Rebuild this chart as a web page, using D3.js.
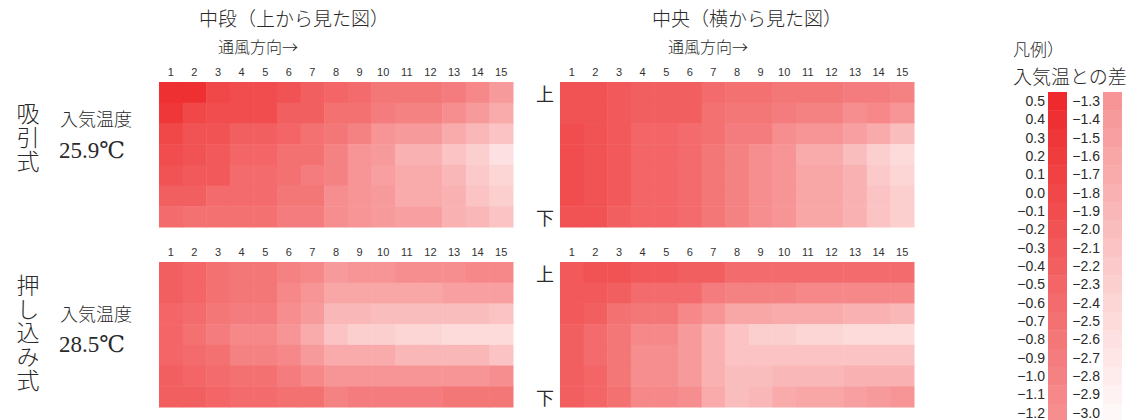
<!DOCTYPE html>
<html lang="ja">
<head>
<meta charset="utf-8">
<script src="https://cdn.jsdelivr.net/npm/d3@7"></script>
<style>
  html, body { margin: 0; padding: 0; background: #fff; }
  svg { display: block; }
  text { fill: #2a2a2a; }
  .temp { font-family: "Liberation Serif", "DejaVu Serif", "Times New Roman", serif; }
  .vert { writing-mode: vertical-rl; text-orientation: upright; }
</style>
</head>
<body>
<svg id="chart" width="1131" height="420"></svg>
<script>
// Column positions along the airflow direction
const columns = [1, 2, 3, 4, 5, 6, 7, 8, 9, 10, 11, 12, 13, 14, 15];

// Temperature difference from inlet air (°C), 7 rows × 15 columns, top row first
const suctionMiddle = [
  [ 0.4,  0.4,  0.0, -0.1, -0.1, -0.2, -0.4, -0.5, -0.6, -0.8, -0.8, -0.8, -0.9, -1.1, -1.4],
  [ 0.3,  0.0, -0.1, -0.1, -0.1, -0.4, -0.4, -0.7, -0.7, -0.9, -1.0, -1.0, -1.2, -1.4, -1.7],
  [ 0.0, -0.2, -0.2, -0.4, -0.4, -0.5, -0.7, -0.8, -1.0, -1.3, -1.4, -1.4, -1.7, -1.9, -2.1],
  [-0.1, -0.2, -0.3, -0.5, -0.5, -0.7, -0.7, -1.0, -1.3, -1.4, -1.8, -1.8, -2.1, -2.3, -2.6],
  [-0.2, -0.3, -0.3, -0.6, -0.6, -0.7, -0.9, -1.0, -1.3, -1.5, -1.7, -1.7, -1.9, -2.2, -2.4],
  [-0.4, -0.4, -0.6, -0.6, -0.6, -0.8, -0.8, -1.2, -1.3, -1.4, -1.7, -1.7, -1.8, -2.1, -2.3],
  [-0.6, -0.7, -0.7, -0.7, -0.7, -0.9, -0.9, -1.2, -1.3, -1.4, -1.5, -1.5, -1.8, -1.9, -2.1]
];
const suctionCenter = [
  [-0.2, -0.2, -0.3, -0.4, -0.4, -0.4, -0.6, -0.7, -0.7, -0.8, -0.8, -0.8, -0.9, -0.9, -1.0],
  [-0.2, -0.2, -0.3, -0.4, -0.4, -0.4, -0.7, -0.8, -0.8, -0.9, -1.0, -1.0, -1.2, -1.1, -1.3],
  [-0.1, -0.2, -0.3, -0.5, -0.5, -0.6, -0.7, -0.9, -0.9, -1.2, -1.3, -1.3, -1.5, -1.7, -2.0],
  [-0.1, -0.2, -0.3, -0.5, -0.5, -0.6, -0.8, -1.0, -1.2, -1.3, -1.7, -1.7, -2.0, -2.3, -2.5],
  [-0.1, -0.2, -0.3, -0.5, -0.5, -0.6, -0.8, -1.0, -1.2, -1.3, -1.6, -1.6, -1.8, -2.2, -2.4],
  [-0.1, -0.2, -0.3, -0.5, -0.5, -0.6, -0.8, -1.0, -1.2, -1.3, -1.6, -1.6, -1.8, -2.1, -2.3],
  [-0.2, -0.2, -0.4, -0.5, -0.5, -0.6, -0.8, -1.0, -1.2, -1.3, -1.6, -1.6, -1.8, -2.1, -2.3]
];
const pushMiddle = [
  [-0.4, -0.5, -0.7, -0.8, -0.8, -1.0, -1.1, -1.4, -1.3, -1.3, -1.2, -1.2, -1.2, -1.1, -1.1],
  [-0.4, -0.5, -0.7, -0.8, -0.8, -1.1, -1.3, -1.6, -1.6, -1.6, -1.6, -1.6, -1.5, -1.5, -1.5],
  [-0.5, -0.6, -0.8, -0.9, -0.9, -1.2, -1.4, -1.9, -1.9, -2.0, -2.0, -2.0, -2.0, -2.0, -2.1],
  [-0.5, -0.7, -0.9, -1.1, -1.1, -1.3, -1.7, -2.1, -2.3, -2.3, -2.4, -2.4, -2.5, -2.5, -2.5],
  [-0.5, -0.6, -0.7, -1.0, -1.0, -1.1, -1.4, -1.7, -1.7, -1.7, -1.9, -1.9, -1.9, -1.9, -2.1],
  [-0.4, -0.5, -0.6, -0.7, -0.7, -0.9, -1.1, -1.3, -1.3, -1.3, -1.3, -1.3, -1.3, -1.3, -1.2],
  [-0.4, -0.4, -0.5, -0.6, -0.6, -0.7, -0.7, -1.0, -0.9, -0.9, -0.9, -0.9, -0.8, -0.8, -0.8]
];
const pushCenter = [
  [-0.3, -0.2, -0.2, -0.3, -0.3, -0.4, -0.4, -0.6, -0.6, -0.6, -0.6, -0.6, -0.6, -0.6, -0.6],
  [-0.3, -0.3, -0.4, -0.6, -0.6, -0.6, -0.9, -1.0, -1.0, -1.0, -1.1, -1.1, -1.1, -1.1, -1.1],
  [-0.3, -0.4, -0.7, -0.8, -0.8, -1.1, -1.3, -1.6, -1.6, -1.7, -1.7, -1.7, -1.8, -1.8, -1.9],
  [-0.4, -0.6, -0.8, -1.1, -1.1, -1.4, -1.8, -2.1, -2.3, -2.3, -2.4, -2.4, -2.5, -2.5, -2.5],
  [-0.4, -0.6, -0.8, -1.2, -1.2, -1.4, -1.8, -2.1, -2.1, -2.1, -2.1, -2.1, -2.1, -2.1, -2.1],
  [-0.4, -0.5, -0.8, -1.2, -1.2, -1.4, -1.8, -2.0, -2.0, -1.9, -1.9, -1.9, -1.8, -1.8, -1.8],
  [-0.4, -0.5, -0.7, -1.1, -1.1, -1.2, -1.7, -2.0, -1.9, -1.7, -1.6, -1.6, -1.5, -1.4, -1.3]
];

// Legend steps (°C), split into two columns
const legendLeft  = [0.5, 0.4, 0.3, 0.2, 0.1, 0.0, -0.1, -0.2, -0.3, -0.4, -0.5, -0.6, -0.7, -0.8, -0.9, -1.0, -1.1, -1.2];
const legendRight = [-1.3, -1.4, -1.5, -1.6, -1.7, -1.8, -1.9, -2.0, -2.1, -2.2, -2.3, -2.4, -2.5, -2.6, -2.7, -2.8, -2.9, -3.0];

const inletTemps = ["25.9℃", "28.5℃"];
const methodLabels = ["吸引式", "押し込み式"];

const svg = d3.select("#chart");

const color = d3.scaleLinear()
  .domain([-3.0, 0.5])
  .range(["#fff8f8", "#ee2a2c"])
  .interpolate(d3.interpolateRgb);
const stepColor = v => color(Math.round(v * 10) / 10);

const fmt = v => (v < 0 ? "−" : "") + Math.abs(v).toFixed(1);

const jp = "'Noto Sans CJK JP', 'Noto Sans', sans-serif";
const num = "'Liberation Sans', Arial, sans-serif";

// Heatmap panels
const panels = [
  { data: suctionMiddle, x0: 159, x1: 513, y0: 82,  y1: 227, side: false },
  { data: suctionCenter, x0: 560, x1: 914, y0: 82,  y1: 227, side: true },
  { data: pushMiddle,    x0: 159, x1: 513, y0: 262, y1: 407, side: false },
  { data: pushCenter,    x0: 560, x1: 914, y0: 262, y1: 407, side: true }
];

panels.forEach(p => {
  const x = d3.scaleBand().domain(columns).range([p.x0, p.x1]);
  const y = d3.scaleBand().domain(d3.range(p.data.length)).range([p.y0, p.y1]);
  const g = svg.append("g");

  const cells = p.data.flatMap((row, r) => row.map((v, c) => ({ r, c: columns[c], v })));
  g.selectAll("rect")
    .data(cells)
    .join("rect")
    .attr("x", d => x(d.c))
    .attr("y", d => y(d.r))
    .attr("width", x.bandwidth() + 0.5)
    .attr("height", y.bandwidth() + 0.5)
    .attr("fill", d => stepColor(d.v));

  // Column numbers along the top
  const axis = d3.axisTop(x).tickSize(0).tickPadding(0);
  const ax = g.append("g")
    .attr("transform", `translate(0,${p.y0 - 6})`)
    .call(axis);
  ax.select(".domain").remove();
  ax.selectAll("text")
    .attr("font-family", num)
    .attr("font-size", 11)
    .style("fill", "#333");

  if (p.side) {
    g.append("text").text("上")
      .attr("x", 545).attr("y", p.y0 + 11)
      .attr("text-anchor", "middle").attr("dominant-baseline", "central")
      .attr("font-family", jp).attr("font-size", 18);
    g.append("text").text("下")
      .attr("x", 545).attr("y", p.y1 - 10)
      .attr("text-anchor", "middle").attr("dominant-baseline", "central")
      .attr("font-family", jp).attr("font-size", 18);
  }
});

// Panel titles
const titles = [
  { t: "中段（上から見た図）", x: 199 },
  { t: "中央（横から見た図）", x: 652 }
];
titles.forEach((d, i) => {
  svg.append("text").text(d.t)
    .attr("x", d.x).attr("y", 26)
    .attr("font-family", jp).attr("font-weight", 300).attr("font-size", 19);
  svg.append("text").text("通風方向→")
    .attr("x", i === 0 ? 218 : 668).attr("y", 53)
    .attr("font-family", jp).attr("font-weight", 300).attr("font-size", 16);
});

// Row labels on the left: method (vertical), inlet temperature
const rowLabelY = [
  { method: 102, spacing: 1.0, inlet: 126, temp: 158 },
  { method: 274, spacing: 0.6, inlet: 321, temp: 352 }
];
methodLabels.forEach((m, i) => {
  const pos = rowLabelY[i];
  svg.append("text").text(m)
    .attr("class", "vert")
    .attr("x", 28).attr("y", pos.method)
    .attr("font-family", jp).attr("font-weight", 300).attr("font-size", 23)
    .attr("letter-spacing", pos.spacing);
  svg.append("text").text("入気温度")
    .attr("x", 60).attr("y", pos.inlet)
    .attr("font-family", jp).attr("font-weight", 300).attr("font-size", 18);
  svg.append("text").text(inletTemps[i])
    .attr("class", "temp")
    .attr("x", 59).attr("y", pos.temp)
    .attr("font-size", 23);
});

// Legend
svg.append("text").text("凡例）")
  .attr("x", 1013).attr("y", 56)
  .attr("font-family", jp).attr("font-weight", 300).attr("font-size", 17);
svg.append("text").text("入気温との差")
  .attr("x", 1013).attr("y", 84)
  .attr("font-family", jp).attr("font-weight", 300).attr("font-size", 19);

const legendTop = 92, legendStep = 18.33;
[[legendLeft, 1048, 1045], [legendRight, 1103, 1100]].forEach(([vals, sx, lx]) => {
  const ly = d3.scaleBand().domain(vals).range([legendTop, legendTop + vals.length * legendStep]);
  const lg = svg.append("g");
  lg.selectAll("rect").data(vals).join("rect")
    .attr("x", sx).attr("y", d => ly(d))
    .attr("width", 19).attr("height", ly.bandwidth() + 0.5)
    .attr("fill", d => stepColor(d));
  lg.selectAll("text").data(vals).join("text")
    .attr("x", lx).attr("y", d => ly(d) + ly.bandwidth() / 2)
    .attr("dominant-baseline", "central")
    .attr("text-anchor", "end")
    .attr("font-family", num).attr("font-size", 14)
    .text(d => fmt(d));
});
</script>
</body>
</html>
